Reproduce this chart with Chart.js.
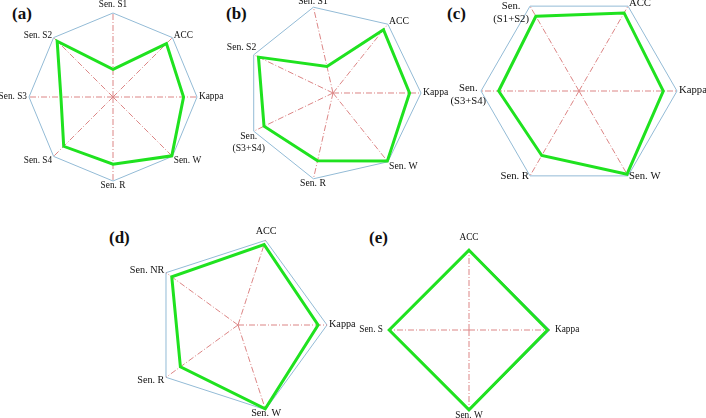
<!DOCTYPE html>
<html>
<head>
<meta charset="utf-8">
<script src="https://cdn.jsdelivr.net/npm/chart.js@4"></script>
<style>
  body { margin: 0; background: #fff; }
  #wrap { position: relative; width: 706px; height: 418px; overflow: hidden; }
  canvas { position: absolute; }
  .tag { position: absolute; font: bold 17px "Liberation Serif", serif; color: #111; }
</style>
</head>
<body>
<div id="wrap">
  <div class="tag" style="left:12px;top:4px">(a)</div>
  <div class="tag" style="left:226px;top:4px">(b)</div>
  <div class="tag" style="left:447px;top:4px">(c)</div>
  <div class="tag" style="left:109px;top:228px">(d)</div>
  <div class="tag" style="left:369px;top:228px">(e)</div>
</div>
<script>
// panel (a)
const labelsA = ['Sen. S1', 'ACC', 'Kappa', 'Sen. W', 'Sen. R', 'Sen. S4', 'Sen. S3', 'Sen. S2'];
const valuesA = [0.33, 0.90, 0.84, 0.99, 0.80, 0.83, 0.62, 0.94];
// panel (b)
const labelsB = ['Sen. S1', 'ACC', 'Kappa', 'Sen. W', 'Sen. R', ['Sen.', '(S3+S4)'], 'Sen. S2'];
const valuesB = [0.31, 0.92, 0.87, 0.99, 0.79, 0.87, 0.94];
// panel (c)
const labelsC = [['Sen.', '(S1+S2)'], 'ACC', 'Kappa', 'Sen. W', 'Sen. R', ['Sen.', '(S3+S4)']];
const valuesC = [0.88, 0.92, 0.86, 0.98, 0.76, 0.82];
// panel (d)
const labelsD = ['ACC', 'Kappa', 'Sen. W', 'Sen. R', 'Sen. NR'];
const valuesD = [0.95, 0.90, 0.99, 0.80, 0.92];
// panel (e)
const labelsE = ['ACC', 'Kappa', 'Sen. W', 'Sen. S'];
const valuesE = [0.985, 0.97, 0.985, 0.985];

const PAD = 60;
const clamp = (v, a, b) => Math.max(a, Math.min(b, v));

// labels next to the outer vertices, placed from the scale's own point positions
const vertexLabels = {
  id: 'vertexLabels',
  afterDraw(chart, args, opts) {
    const scale = chart.scales.r;
    const ctx = chart.ctx;
    const size = opts.size || 10;
    const lh = size * 1.2;
    const place = opts.place || {};
    ctx.save();
    ctx.font = size + 'px "Liberation Serif", serif';
    ctx.fillStyle = '#111';
    ctx.textBaseline = 'top';
    ctx.textAlign = 'center';
    chart.data.labels.forEach((label, i) => {
      const lines = [].concat(label);
      const h = lines.length * lh;
      const w = Math.max(...lines.map(t => ctx.measureText(t).width));
      const p = scale.getPointPosition(i, scale.drawingArea + (opts.gap || 2));
      const dx = Math.cos(p.angle), dy = Math.sin(p.angle);
      let hf = Math.sign(dx) * clamp((Math.abs(dx) - 0.35) * 6, 0, 1);
      let vf = dy < 0 ? -clamp((-dy - 0.8) * 7, 0, 1) : clamp(dy * 1.3, 0, 1) * 0.65;
      if (place[i]) { hf = place[i][0]; vf = place[i][1]; }
      const left = p.x - w / 2 + hf * w / 2;
      const top = p.y - h / 2 + vf * h / 2;
      lines.forEach((t, k) => ctx.fillText(t, left + w / 2, top + k * lh));
    });
    ctx.restore();
  }
};

function radar(labels, values, cx, cy, R, startAngle, labelOpts) {
  const cv = document.createElement('canvas');
  cv.width = 2 * R + 2 * PAD;
  cv.height = 2 * R + 2 * PAD;
  cv.style.left = (cx - R - PAD) + 'px';
  cv.style.top = (cy - R - PAD) + 'px';
  document.getElementById('wrap').appendChild(cv);
  return new Chart(cv, {
    type: 'radar',
    data: {
      labels: labels,
      datasets: [{
        data: values,
        borderColor: '#1fe21f',
        borderWidth: 3,
        backgroundColor: 'transparent',
        fill: false,
        pointRadius: 0,
        tension: 0
      }]
    },
    options: {
      responsive: false,
      animation: false,
      events: [],
      layout: { padding: PAD },
      plugins: {
        legend: { display: false },
        tooltip: { enabled: false },
        vertexLabels: labelOpts
      },
      scales: {
        r: {
          min: 0,
          max: 1,
          startAngle: startAngle,
          ticks: { display: false, stepSize: 1 },
          grid: { color: '#93bbd6', lineWidth: 1 },
          angleLines: { color: '#dc8585', lineWidth: 1, borderDash: [6, 2, 1, 2] },
          pointLabels: { display: false }
        }
      }
    },
    plugins: [vertexLabels]
  });
}

radar(labelsA, valuesA, 113, 97, 84, 0, { size: 9.3 });
radar(labelsB, valuesB, 333, 93, 88, -12.86, { size: 9.7, place: { 0: [0, -0.5], 5: [-0.2, 1], 6: [-0.7, -1] } });
radar(labelsC, valuesC, 579, 91, 98, -30, { size: 10.7, place: { 0: [-1, 0.7], 1: [1, 0], 3: [1, 0], 4: [-1, 0], 5: [-0.6, 0.4] } });
radar(labelsD, valuesD, 238, 325, 89, 18, { size: 10.2, place: { 2: [0, 0.4] } });
radar(labelsE, valuesE, 469, 330, 81, 0, { size: 9.3, gap: 5, place: { 2: [0, 0.1] } });
</script>
</body>
</html>
